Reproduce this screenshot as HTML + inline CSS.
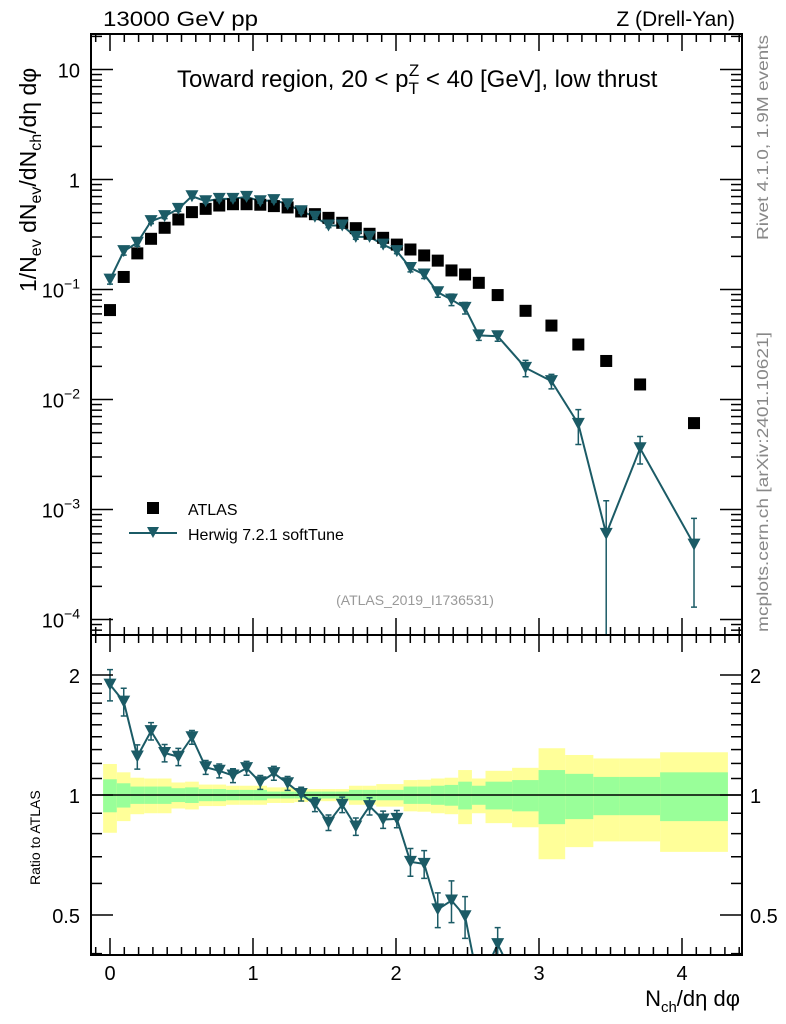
<!DOCTYPE html>
<html><head><meta charset="utf-8"><style>
html,body{margin:0;padding:0;background:#fff;overflow:hidden;width:786px;height:1024px;}
svg{display:block;}
svg text{font-family:"Liberation Sans",sans-serif;}
</style></head><body>
<svg id="chart" width="786" height="1024" xmlns="http://www.w3.org/2000/svg">
<defs>
<clipPath id="clipMain"><rect x="91" y="34" width="651" height="601"/></clipPath>
<clipPath id="clipRatio"><rect x="91" y="635" width="651" height="320"/></clipPath>
</defs>
<g id="bands" clip-path="url(#clipRatio)"></g>
<g id="marks"></g>
<rect x="91" y="34" width="651" height="601" fill="none" stroke="#000" stroke-width="2"/>
<rect x="91" y="635" width="651" height="320" fill="none" stroke="#000" stroke-width="2"/>
<g id="axes"></g>
<text x="103" y="26" font-size="21" textLength="155" lengthAdjust="spacingAndGlyphs">13000 GeV pp</text>
<text x="735" y="26" font-size="21" text-anchor="end">Z (Drell-Yan)</text>
<text x="177" y="87" font-size="24">Toward region, 20 &lt; p<tspan font-size="17" dy="7">T</tspan><tspan font-size="17" dx="-10" dy="-18">Z</tspan><tspan dy="11"> &lt; 40 [GeV], low thrust</tspan></text>
<text transform="translate(768,240) rotate(-90)" font-size="16" fill="#888" textLength="205" lengthAdjust="spacingAndGlyphs">Rivet 4.1.0, 1.9M events</text>
<text transform="translate(768,632) rotate(-90)" font-size="16" fill="#888" textLength="300" lengthAdjust="spacingAndGlyphs">mcplots.cern.ch [arXiv:2401.10621]</text>
<text x="415" y="605" font-size="14" fill="#999" text-anchor="middle">(ATLAS_2019_I1736531)</text>
<text transform="translate(36,292) rotate(-90)" font-size="23">1/N<tspan font-size="16" dy="5">ev</tspan><tspan dy="-5"> dN</tspan><tspan font-size="16" dy="5">ev</tspan><tspan dy="-5">/dN</tspan><tspan font-size="16" dy="5">ch</tspan><tspan dy="-5">/dη dφ</tspan></text>
<text transform="translate(40,885) rotate(-90)" font-size="14">Ratio to ATLAS</text>
<text x="740" y="1006" font-size="22" text-anchor="end">N<tspan font-size="15" dy="6">ch</tspan><tspan dy="-6">/dη dφ</tspan></text>
<g>
<rect x="147" y="502" width="12" height="12" fill="#000"/>
<text x="188" y="515" font-size="16">ATLAS</text>
<line x1="129" y1="533" x2="177" y2="533" stroke="#1b5b66" stroke-width="2"/>
<path d="M147,527 L159,527 L153,538 Z" fill="#1b5b66"/>
<text x="188" y="540" font-size="16">Herwig 7.2.1 softTune</text>
</g>
</svg>
<script>
const xs=[0,.096,.191,.287,.382,.478,.573,.669,.764,.860,.955,1.051,1.146,1.242,1.337,1.433,1.528,1.624,1.719,1.815,1.910,2.006,2.101,2.197,2.292,2.388,2.483,2.579,2.711,2.906,3.087,3.275,3.470,3.707,4.084];
const edges=[-0.048,.048,.143,.239,.334,.430,.525,.621,.716,.812,.907,1.003,1.098,1.194,1.289,1.385,1.480,1.576,1.671,1.767,1.862,1.958,2.053,2.149,2.244,2.340,2.435,2.531,2.626,2.812,2.997,3.183,3.380,3.566,3.847,4.321];
const atlas=[.065,.13,.213,.289,.364,.433,.505,.541,.58,.596,.596,.59,.573,.557,.512,.484,.448,.404,.361,.321,.295,.256,.231,.204,.183,.149,.137,.115,.089,.064,.047,.0316,.0224,.0137,.0061];
const herwig=[.123,.223,.266,.418,.464,.54,.705,.635,.667,.667,.696,.635,.65,.596,.515,.458,.382,.382,.301,.301,.256,.223,.157,.137,.0945,.081,.068,.0383,.0376,.0194,.0147,.006,.0006,.0036,.00048];
const herwigErr=[.09,.08,.07,.05,.05,.05,.04,.04,.04,.04,.04,.04,.04,.04,.04,.04,.045,.045,.05,.05,.05,.05,.08,.08,.1,.12,.12,.1,.1,.17,.15,.35,1.0,.28,.73];
const atlasTotErr=[.196,.14,.105,.10,.10,.075,.08,.062,.062,.055,.055,.055,.045,.045,.04,.035,.035,.035,.055,.055,.065,.065,.09,.092,.10,.105,.155,.10,.15,.17,.31,.26,.235,.235,.28];
const atlasStatErr=[.095,.07,.05,.05,.05,.04,.045,.035,.035,.03,.03,.03,.02,.02,.02,.02,.02,.02,.03,.03,.03,.03,.05,.05,.055,.06,.08,.055,.08,.09,.155,.13,.11,.11,.14];
const xTicks=[0,1,2,3,4];
const yTicks=[10,1,0.1,0.01,0.001,0.0001];
const yTickLabels=["10","1","10^-1","10^-2","10^-3","10^-4"];
const rTicks=[2,1,0.5];
const rTickLabels=["2","1","0.5"];

const NS="http://www.w3.org/2000/svg";
const C="#1b5b66";
const X=v=>110+143*v;
const Y=v=>179.5-110*Math.log10(v);
const R=v=>795-120*Math.log2(v);
function mk(tag,attrs,parent){const e=document.createElementNS(NS,tag);for(const k in attrs)e.setAttribute(k,attrs[k]);parent.appendChild(e);return e;}
const bands=document.getElementById('bands');
const marks=document.getElementById('marks');
const axes=document.getElementById('axes');

for(let i=0;i<xs.length;i++){
  const x1=X(edges[i]),x2=X(edges[i+1]);
  const y=mk('rect',{x:x1,y:R(1+atlasTotErr[i]),width:x2-x1,height:R(1-atlasTotErr[i])-R(1+atlasTotErr[i]),fill:'#ffff99'},bands);
  
  
  const g=mk('rect',{x:x1,y:R(1+atlasStatErr[i]),width:x2-x1,height:R(1-atlasStatErr[i])-R(1+atlasStatErr[i]),fill:'#99ff99'},bands);
  
  
}
const ref=mk('line',{x1:91,x2:742,y1:R(1),y2:R(1),stroke:'#000','stroke-width':1.5},marks);



const gm=mk('g',{'clip-path':'url(#clipMain)'},marks);
const gr=mk('g',{'clip-path':'url(#clipRatio)'},marks);
let pts=xs.map((x,i)=>X(x)+','+Y(herwig[i])).join(' ');
const hl=mk('polyline',{points:pts,fill:'none',stroke:C,'stroke-width':2},gm);


let rp=xs.map((x,i)=>X(x)+','+R(herwig[i]/atlas[i])).join(' ');
const rl=mk('polyline',{points:rp,fill:'none',stroke:C,'stroke-width':2},gr);


function tri(g,cx,cy,name){const t=mk('path',{d:`M${cx-6.5},${cy-6} L${cx+6.5},${cy-6} L${cx},${cy+6} Z`,fill:C},g);}
function err(g,cx,lo,hi,name){const e=mk('path',{d:`M${cx},${lo} L${cx},${hi} M${cx-3},${lo} L${cx+3},${lo} M${cx-3},${hi} L${cx+3},${hi}`,stroke:C,'stroke-width':1.5,fill:'none'},g);}
for(let i=0;i<xs.length;i++){
  const cx=X(xs[i]);
  const s=mk('rect',{x:cx-6,y:Y(atlas[i])-6,width:12,height:12,fill:'#000'},gm);
  
  
  const h=herwig[i],e=herwigErr[i];
  const lo=h*(1-e)>0?Y(h*(1-e)):700;
  err(gm,cx,lo,Y(h*(1+e)),'herwig-error-bar');
  tri(gm,cx,Y(h),'herwig-point');
  const r=h/atlas[i];
  const rlo=r*(1-e)>0?R(r*(1-e)):1000;
  err(gr,cx,rlo,R(r*(1+e)),'herwig-ratio-error-bar');
  tri(gr,cx,R(r),'herwig-ratio-point');
}

function tick(x1,y1,x2,y2,name){const t=mk('line',{x1,y1,x2,y2,stroke:'#000','stroke-width':1.5},axes);}
for(let k=-1;k<=44;k++){
  const vv=k/10;const major=k%10===0;
  const px=X(vv);const L=major?17:8;
  tick(px,34,px,34+L,'x-tick-top');
  tick(px,635,px,635-L,'x-tick-main-bottom');
  tick(px,635,px,635+L,'x-tick-ratio-top');
  tick(px,955,px,955-L,'x-tick-bottom');
}
xTicks.forEach(v=>{const t=mk('text',{x:X(v),y:980,'font-size':20,'text-anchor':'middle'},axes);t.textContent=String(v);});
for(let d=-5;d<=1;d++){for(let m=1;m<=9;m++){const v=m*Math.pow(10,d);const py=Y(v);if(py<34||py>635)continue;const L=m===1?22:11;tick(91,py,91+L,py,'y-tick');tick(742,py,742-L,py,'y-tick-right');}}
yTicks.forEach((v,i)=>{const lab=yTickLabels[i];const t=mk('text',{x:80,y:Y(v)+8,'font-size':20,'text-anchor':'end'},axes);
  if(lab.includes('^')){const [b,p]=lab.split('^');t.textContent=b;const s=mk('tspan',{'font-size':14,dy:-9},t);s.textContent=p.replace('-','\u2212');}else t.textContent=lab;
  });
[0.4,0.5,0.6,0.7,0.8,0.9,1,1.1,1.2,1.3,1.4,1.5,1.6,1.7,1.8,1.9,2].forEach(v=>{const py=R(v);if(py<635||py>955)return;const L=(v===0.5||v===1||v===2)?22:11;tick(91,py,91+L,py,'ratio-y-tick');tick(742,py,742-L,py,'ratio-y-tick-right');});
rTicks.forEach((v,i)=>{const t=mk('text',{x:80,y:R(v)+8,'font-size':20,'text-anchor':'end'},axes);t.textContent=rTickLabels[i];
  const t2=mk('text',{x:750,y:R(v)+8,'font-size':20},axes);t2.textContent=rTickLabels[i];});
</script>
</body></html>
